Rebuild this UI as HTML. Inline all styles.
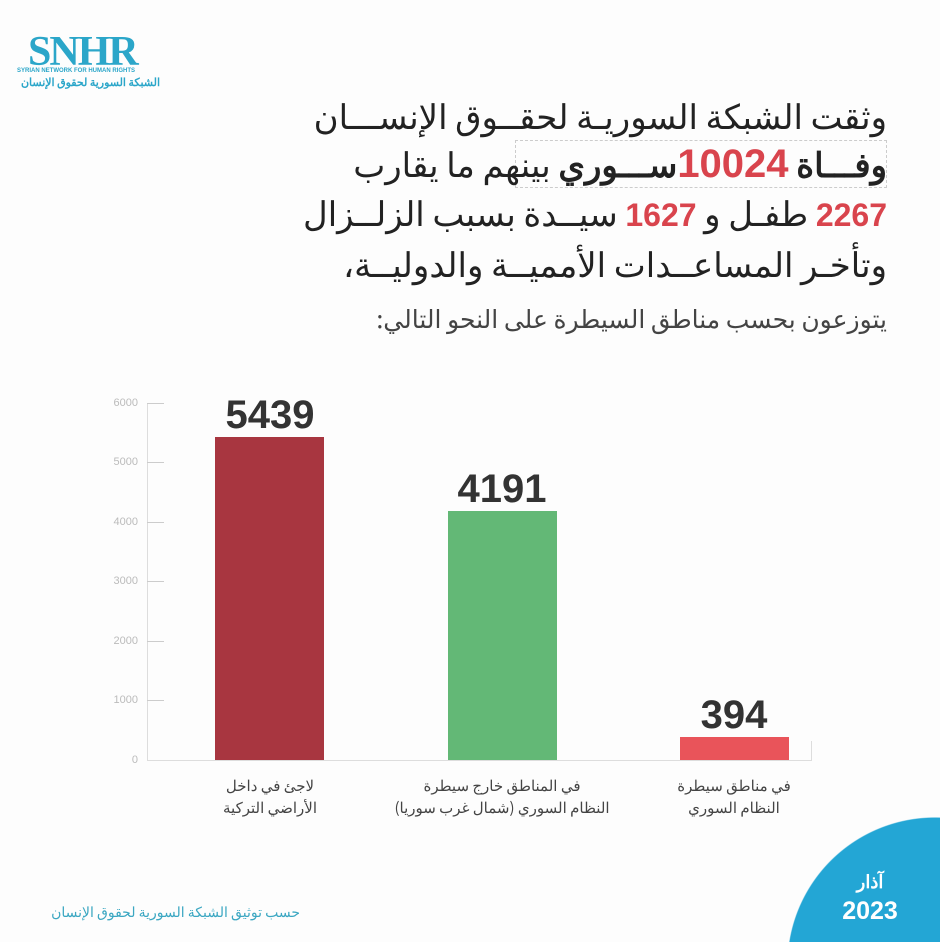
<!DOCTYPE html>
<html><head><meta charset="utf-8"><style>
html,body{margin:0;padding:0;width:940px;height:942px;overflow:hidden}
#w{position:relative;width:940px;height:942px;overflow:hidden;background:#fdfdfd;font-family:"Liberation Sans","Noto Sans CJK SC",sans-serif}
.t{position:absolute;right:53px;direction:rtl;white-space:nowrap;color:#222;font-family:"Noto Sans CJK SC","WenQuanYi Zen Hei",sans-serif}
.red{color:#d9444d;font-family:"Liberation Sans",sans-serif;font-weight:bold}
.yl{position:absolute;width:30px;text-align:right;font-size:11px;color:#bbb;left:108px}
.tk{position:absolute;left:147px;width:17px;height:1px;background:#ccc}
.val{position:absolute;width:160px;text-align:center;font:bold 40px "Liberation Sans",sans-serif;color:#333}
.lab{position:absolute;width:240px;text-align:center;direction:rtl;font-size:14px;line-height:22px;color:#444;font-family:"Noto Sans CJK SC",sans-serif;white-space:nowrap}
</style></head><body><div id="w">
<div style="position:absolute;left:28px;top:28px;color:#2ba6c9;font:bold 42px 'Liberation Serif',serif;letter-spacing:-2px">SNHR</div>
<div style="position:absolute;left:17px;top:68px;color:#2ba6c9;font-size:6px;font-weight:bold;white-space:nowrap">SYRIAN NETWORK FOR HUMAN RIGHTS</div>
<div style="position:absolute;left:10px;top:74px;color:#2ba6c9;font-size:11px;direction:rtl;width:150px;text-align:right;white-space:nowrap;font-family:'Noto Sans CJK SC',sans-serif;font-weight:bold">الشبكة السورية لحقوق الإنسان</div>

<div class="t" style="top:92px;font-size:34px;line-height:46px">وثقت الشبكة السوريـة لحقــوق الإنســـان</div>
<div style="position:absolute;left:515px;top:140px;width:372px;height:48px;border:1px dashed #ccc;box-sizing:border-box"></div>
<div class="t" style="top:140px;font-size:34px;line-height:46px"><b>وفـــاة <span class="red" style="font-size:40px">10024</span>ســـوري</b> بينهم ما يقارب</div>
<div class="t" style="top:189px;font-size:34px;line-height:46px"><span class="red" style="font-size:32px">2267</span> طفـل و <span class="red" style="font-size:32px">1627</span> سيــدة بسبب الزلــزال</div>
<div class="t" style="top:240px;font-size:34px;line-height:46px">وتأخـر المساعــدات الأمميــة والدوليــة،</div>
<div class="t" style="top:300px;font-size:25px;line-height:36px;color:#444">يتوزعون بحسب مناطق السيطرة على النحو التالي:</div>

<div style="position:absolute;left:147px;top:403px;width:1px;height:357px;background:#ddd"></div>
<div style="position:absolute;left:147px;top:760px;width:665px;height:1px;background:#ddd"></div>
<div style="position:absolute;left:811px;top:741px;width:1px;height:20px;background:#ddd"></div>
<div class="yl" style="top:397px">6000</div><div class="tk" style="top:403px"></div>
<div class="yl" style="top:456px">5000</div><div class="tk" style="top:462px"></div>
<div class="yl" style="top:516px">4000</div><div class="tk" style="top:522px"></div>
<div class="yl" style="top:575px">3000</div><div class="tk" style="top:581px"></div>
<div class="yl" style="top:635px">2000</div><div class="tk" style="top:641px"></div>
<div class="yl" style="top:694px">1000</div><div class="tk" style="top:700px"></div>
<div class="yl" style="top:754px">0</div>

<div style="position:absolute;left:215px;top:437px;width:109px;height:323px;background:#a83640"></div>
<div style="position:absolute;left:448px;top:511px;width:109px;height:249px;background:#63b876"></div>
<div style="position:absolute;left:680px;top:737px;width:109px;height:23px;background:#e9545a"></div>
<div class="val" style="left:190px;top:393px">5439</div>
<div class="val" style="left:422px;top:467px">4191</div>
<div class="val" style="left:654px;top:693px">394</div>
<div class="lab" style="left:150px;top:775px;font-size:15px">لاجئ في داخل<br>الأراضي التركية</div>
<div class="lab" style="left:382px;top:775px;font-size:15px">في المناطق خارج سيطرة<br>النظام السوري (شمال غرب سوريا)</div>
<div class="lab" style="left:614px;top:775px;font-size:15px">في مناطق سيطرة<br>النظام السوري</div>

<div style="position:absolute;left:15px;top:902px;width:285px;text-align:right;direction:rtl;color:#3ba7c2;font-size:14px;white-space:nowrap;font-family:'Noto Sans CJK SC',sans-serif">حسب توثيق الشبكة السورية لحقوق الإنسان</div>
<div style="position:absolute;left:787px;top:817px;width:153px;height:125px;background:radial-gradient(circle 148px at 148px 148px,#23a6d5 99.3%,rgba(35,166,213,0) 100%)"></div>
<div style="position:absolute;left:830px;top:868px;width:80px;text-align:center;color:#fff;font-size:18px;font-weight:bold;font-family:'Noto Sans CJK SC',sans-serif">آذار</div>
<div style="position:absolute;left:830px;top:897px;width:80px;text-align:center;color:#fff;font:bold 25px 'Liberation Sans',sans-serif">2023</div>
</div></body></html>
